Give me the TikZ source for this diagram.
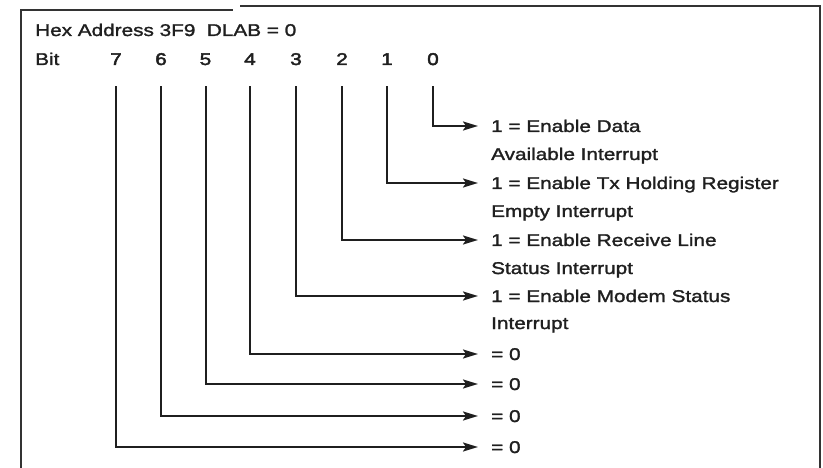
\documentclass[tikz,border=0pt]{standalone}
\usepackage{fontspec}
\setmainfont{Liberation Sans}[FakeStretch=1.22,FakeBold=1.6]
\newfontfamily\digitfont{Liberation Sans}[FakeStretch=1.22,FakeBold=2.6]
\usetikzlibrary{arrows.meta}
\begin{document}
\begin{tikzpicture}[x=1pt,y=-1pt,
  lbl/.style={inner sep=0pt,text height=12pt,text depth=0pt,anchor=west,
    font=\fontsize{17}{20}\selectfont,text=black!88},
  num/.style={lbl,anchor=center,font=\digitfont\fontsize{17}{20}\selectfont},
  frame/.style={line width=1.5pt,draw=black!80},
  conn/.style={line width=2pt,draw=black!88,line cap=butt,
    -{Stealth[length=15pt,width=9pt,inset=3pt]},shorten >=13pt,shorten <=21pt}]
\useasboundingbox (0,0) rectangle (823,468);
% frame (open at the bottom)
\draw[frame] (21,468) -- (21,10) -- (233,10);
\draw[frame] (240,6) -- (820,6) -- (820,468);
% heading
\node[lbl] (head) at (35,30) {Hex Address 3F9\ \ DLAB = 0};
\node[lbl] (bit) at (35,59) {Bit};
% bit numbers
\node[num] (b7) at (116,59) {7};
\node[num] (b6) at (161,59) {6};
\node[num] (b5) at (205.5,59) {5};
\node[num] (b4) at (250,59) {4};
\node[num] (b3) at (296,59) {3};
\node[num] (b2) at (342,59) {2};
\node[num] (b1) at (387,59) {1};
\node[num] (b0) at (433,59) {0};
% descriptions
\node[lbl] (t0) at (491,126) {1 = Enable Data};
\node[lbl] (t0b) at (491,154) {Available Interrupt};
\node[lbl] (t1) at (491,183) {1 = Enable Tx Holding Register};
\node[lbl] (t1b) at (491,211) {Empty Interrupt};
\node[lbl] (t2) at (491,240) {1 = Enable Receive Line};
\node[lbl] (t2b) at (491,268) {Status Interrupt};
\node[lbl] (t3) at (491,296) {1 = Enable Modem Status};
\node[lbl] (t3b) at (491,323) {Interrupt};
\node[lbl] (t4) at (491,354) {= 0};
\node[lbl] (t5) at (491,384) {= 0};
\node[lbl] (t6) at (491,416) {= 0};
\node[lbl] (t7) at (491,447) {= 0};
% connectors
\foreach \i in {0,...,7}{
  \draw[conn] (b\i.south) |- (t\i.west);
}
\end{tikzpicture}
\end{document}
